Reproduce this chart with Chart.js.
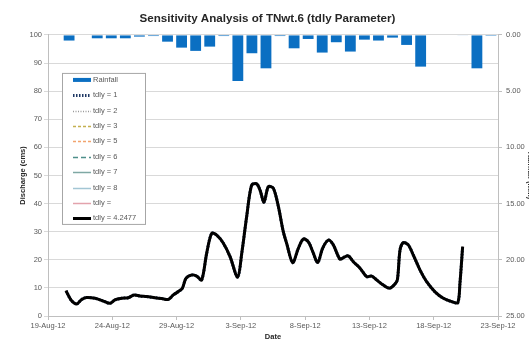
<!DOCTYPE html>
<html lang="en">
<head>
<meta charset="UTF-8">
<title>Sensitivity Analysis of TNwt.6</title>
<script src="https://cdn.jsdelivr.net/npm/chart.js@4.4.0/dist/chart.umd.min.js"></script>
<style>
    html, body { margin:0; padding:0; background:#fff; overflow:hidden; }
    #wrap { width:535px; height:343px; position:relative; }
</style>
</head>
<body>
<div id="wrap"><canvas id="myChart"></canvas></div>
<script>
// x of the discharge line = days after 19-Aug-12
var xTickLabels = ['19-Aug-12','24-Aug-12','29-Aug-12','3-Sep-12','8-Sep-12','13-Sep-12','18-Sep-12','23-Sep-12'];

// daily rainfall (mm), plotted on the reversed right axis
var rainDates = ['19-Aug','20-Aug','21-Aug','22-Aug','23-Aug','24-Aug','25-Aug','26-Aug','27-Aug','28-Aug','29-Aug',
                 '30-Aug','31-Aug','1-Sep','2-Sep','3-Sep','4-Sep','5-Sep','6-Sep','7-Sep','8-Sep','9-Sep',
                 '10-Sep','11-Sep','12-Sep','13-Sep','14-Sep','15-Sep','16-Sep','17-Sep','18-Sep','19-Sep'];
var rainfall = [0, 0.5, 0, 0.3, 0.3, 0.3, 0.15, 0.1, 0.6, 1.13, 1.42,
                1.04, 0.1, 4.1, 1.63, 2.97, 0.1, 1.19, 0.36, 1.57, 0.65, 1.48,
                0.42, 0.5, 0.24, 0.89, 2.82, 0, 0, 0.05, 2.97, 0.08];

// simulated discharge (cms)
var flowDays = [1.4, 1.79, 2.23, 2.62, 3.0, 3.66, 4.3, 4.82, 5.2, 5.73, 6.25, 6.7, 7.16, 7.67, 8.32, 8.84, 9.36,
                9.75, 10.14, 10.45, 10.73, 11.17, 11.56, 11.95, 12.34, 12.73, 13.12, 13.64, 14.16, 14.75,
                15.07, 15.45, 15.84, 16.23, 16.49, 16.8, 17.14, 17.53, 17.92, 18.3, 18.56, 19.03, 19.47,
                19.86, 20.25, 20.59, 20.98, 21.36, 21.8, 22.19, 22.71, 23.02, 23.36, 23.75, 24.27, 24.79,
                25.18, 25.57, 26.08, 26.55, 26.91, 27.17, 27.38, 27.64, 28.02, 28.41, 28.93, 29.45, 30.1,
                30.75, 31.4, 31.87, 32.04, 32.25];
var flowQ = [9.0, 5.7, 4.3, 5.9, 6.6, 6.3, 5.3, 4.5, 5.7, 6.3, 6.5, 7.5, 7.1, 6.9, 6.5, 6.2, 5.9,
             7.5, 8.7, 9.9, 13.4, 14.6, 14.2, 12.8, 22.3, 29.4, 28.8, 25.9, 21.1, 13.8,
             22.3, 35.3, 46.6, 47.0, 44.8, 40.5, 46.0, 45.4, 38.9, 30.0, 25.9, 19.0, 24.1,
             27.4, 26.4, 22.9, 19.0, 24.1, 27.0, 25.3, 20.2, 20.9, 21.4, 19.3, 17.0, 14.0,
             14.2, 12.8, 11.0, 9.9, 11.0, 12.8, 23.5, 26.1, 25.3, 21.7, 16.4, 12.2, 8.6,
             6.3, 5.1, 4.7, 11.6, 24.7];

var seriesNames = ['tdly = 1', 'tdly = 2', 'tdly = 3', 'tdly = 5', 'tdly = 6', 'tdly = 7', 'tdly = 8', 'tdly = ', 'tdly = 4.2477'];
var seriesColors = ['#1F3864', '#9A9A9A', '#C4B050', '#F2A46E', '#4E8F8A', '#7FA8A4', '#A3C6D4', '#E3A3AC', '#000000'];
var seriesDash = [[1.5,1.5], [1,1.5], [3,2], [3,2], [5,3], [], [], [], []];
var seriesWidth = [3, 1.5, 1.5, 1.5, 1.5, 1.5, 1.5, 1.5, 3];

var points = flowDays.map(function (d, i) { return {x: d, y: flowQ[i]}; });

var datasets = [{
    type: 'bar',
    label: 'Rainfall',
    data: rainfall,
    xAxisID: 'x2',
    yAxisID: 'y2',
    backgroundColor: '#0B6FC2',
    borderWidth: 0,
    grouped: false,
    barPercentage: 0.77,
    categoryPercentage: 1,
    order: 20
}];
seriesNames.forEach(function (name, i) {
    datasets.push({
        type: 'line',
        label: name,
        data: points,
        xAxisID: 'x',
        yAxisID: 'y',
        borderColor: seriesColors[i],
        backgroundColor: seriesColors[i],
        borderWidth: seriesWidth[i],
        borderDash: seriesDash[i],
        pointRadius: 0,
        tension: 0.3,
        fill: false,
        order: i === 8 ? 0 : 10 - i
    });
});

var txtColor = '#595959';
var fontFam = 'Liberation Sans';
var tickFont = {family: fontFam, size: 7.5};

// legend box drawn inside the plot, like the spreadsheet chart
var boxLegend = {
    id: 'boxLegend',
    afterDraw: function (chart) {
        var ctx = chart.ctx;
        var a = chart.chartArea;
        var left = a.left + 14, top = a.top + 38, w = 83, h = 151;
        ctx.save();
        ctx.fillStyle = '#ffffff';
        ctx.fillRect(left, top, w, h);
        ctx.strokeStyle = '#A6A6A6';
        ctx.lineWidth = 1;
        ctx.strokeRect(left + 0.5, top + 0.5, w, h);
        ctx.font = '7.5px "Liberation Sans"';
        ctx.textBaseline = 'middle';
        chart.data.datasets.forEach(function (ds, i) {
            var y = top + 7 + i * 15.37;
            var x0 = left + 11, x1 = left + 29;
            if (ds.type === 'bar') {
                ctx.fillStyle = ds.backgroundColor;
                ctx.fillRect(x0, y - 2, x1 - x0, 4);
            } else {
                ctx.strokeStyle = ds.borderColor;
                ctx.lineWidth = ds.borderWidth;
                ctx.setLineDash(ds.borderDash);
                ctx.beginPath();
                ctx.moveTo(x0, Math.round(y) + 0.5);
                ctx.lineTo(x1, Math.round(y) + 0.5);
                ctx.stroke();
                ctx.setLineDash([]);
            }
            ctx.fillStyle = txtColor;
            ctx.fillText(ds.label, x1 + 2, y);
        });
        ctx.restore();
    }
};

var ctx = document.getElementById('myChart').getContext('2d');
var myChart = new Chart(ctx, {
    data: {labels: rainDates, datasets: datasets},
    options: {
        responsive: true,
        maintainAspectRatio: false,
        animation: false,
        layout: {padding: 0},
        plugins: {
            legend: {display: false},
            tooltip: {enabled: false},
            title: {
                display: true,
                text: 'Sensitivity Analysis of TNwt.6 (tdly Parameter)',
                color: '#262626',
                font: {family: fontFam, size: 11.6, weight: 'bold', lineHeight: 1.2},
                padding: {top: 12, bottom: 9}
            }
        },
        scales: {
            x: {
                type: 'linear',
                position: 'bottom',
                min: 0, max: 35,
                ticks: {
                    stepSize: 5,
                    color: txtColor,
                    font: tickFont,
                    padding: 1,
                    maxRotation: 0,
                    callback: function (v) { return xTickLabels[Math.round(v / 5)]; }
                },
                grid: {drawOnChartArea: false, color: '#BFBFBF', tickLength: 4},
                border: {color: '#BFBFBF'},
                title: {display: true, text: 'Date', color: '#262626',
                        font: {family: fontFam, size: 7.5, weight: 'bold', lineHeight: 1.2},
                        padding: {top: 0, bottom: 1.5}},
                afterFit: function (s) { s.height = 27; }
            },
            x2: {
                type: 'category',
                display: false,
                offset: true
            },
            y: {
                position: 'left',
                min: 0, max: 100,
                ticks: {stepSize: 10, color: txtColor, font: tickFont, padding: 2},
                grid: {color: '#D9D9D9', tickLength: 4},
                border: {color: '#BFBFBF'},
                title: {display: true, text: 'Discharge (cms)', color: '#262626',
                        font: {family: fontFam, size: 7.5, weight: 'bold', lineHeight: 1.2},
                        padding: {top: 18, bottom: 0}},
                afterFit: function (s) { s.width = 48; }
            },
            y2: {
                position: 'right',
                reverse: true,
                min: 0, max: 25,
                ticks: {stepSize: 5, color: txtColor, font: tickFont, padding: 4,
                        callback: function (v) { return v.toFixed(2); }},
                grid: {drawOnChartArea: false, color: '#BFBFBF', tickLength: 4},
                border: {color: '#BFBFBF'},
                title: {display: true, text: 'Rainfall (mm)', color: '#262626',
                        font: {family: fontFam, size: 7.5, weight: 'bold', lineHeight: 1.2},
                        padding: {top: 0, bottom: 0}},
                afterFit: function (s) { s.width = 37; }
            }
        }
    },
    plugins: [boxLegend]
});
</script>
</body>
</html>
